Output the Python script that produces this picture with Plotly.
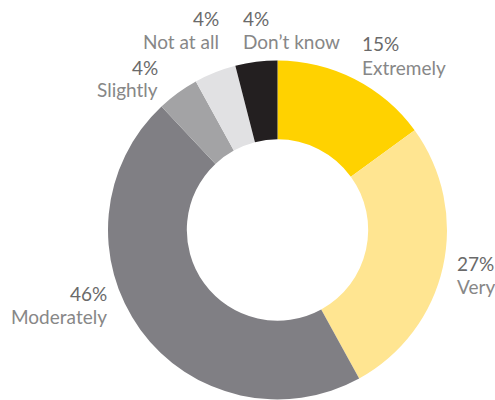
import plotly.graph_objects as go

labels = ["Extremely", "Very", "Moderately", "Slightly", "Not at all", "Don\u2019t know"]
values = [15, 27, 46, 4, 4, 4]
colors = ["#FFD200", "#FFE591", "#807F84", "#A3A3A5", "#E1E1E3", "#231F20"]

W, H = 495, 400
cx, cy, R = 277.5, 230, 169.5

fig = go.Figure(go.Pie(
    labels=labels, values=values, sort=False, direction="clockwise", rotation=0,
    hole=0.535, marker=dict(colors=colors, line=dict(width=0)),
    textinfo="none", hoverinfo="label+percent", showlegend=False,
    domain=dict(x=[(cx - R) / W, (cx + R) / W], y=[1 - (cy + R) / H, 1 - (cy - R) / H]),
))

# label anchor positions in pixels: (x, y_pct, y_label, anchor)
pos = {
    "Extremely": (360, 43, 67, "left"),
    "Very": (455, 263, 286, "left"),
    "Moderately": (109, 293, 316, "right"),
    "Slightly": (160, 67, 89, "right"),
    "Not at all": (221, 19, 41, "right"),
    "Don\u2019t know": (241, 19, 41, "left"),
}
font_family = "Lato, Open Sans, sans-serif"
for lab, v in zip(labels, values):
    x, yp, yl, anc = pos[lab]
    fig.add_annotation(x=x / W, y=1 - yp / H, xref="paper", yref="paper",
                       text=f"{v}%", showarrow=False, xanchor=anc, yanchor="middle",
                       font=dict(family=font_family, size=19, color="#6a6a6a"))
    fig.add_annotation(x=x / W, y=1 - yl / H, xref="paper", yref="paper",
                       text=lab, showarrow=False, xanchor=anc, yanchor="middle",
                       font=dict(family=font_family, size=19, color="#878787"))

fig.update_layout(width=W, height=H, margin=dict(l=0, r=0, t=0, b=0),
                  paper_bgcolor="white", plot_bgcolor="white")
fig.write_html("out.html", config={"displayModeBar": False},
               post_script="document.body.style.margin='0';document.body.style.overflow='hidden';")
